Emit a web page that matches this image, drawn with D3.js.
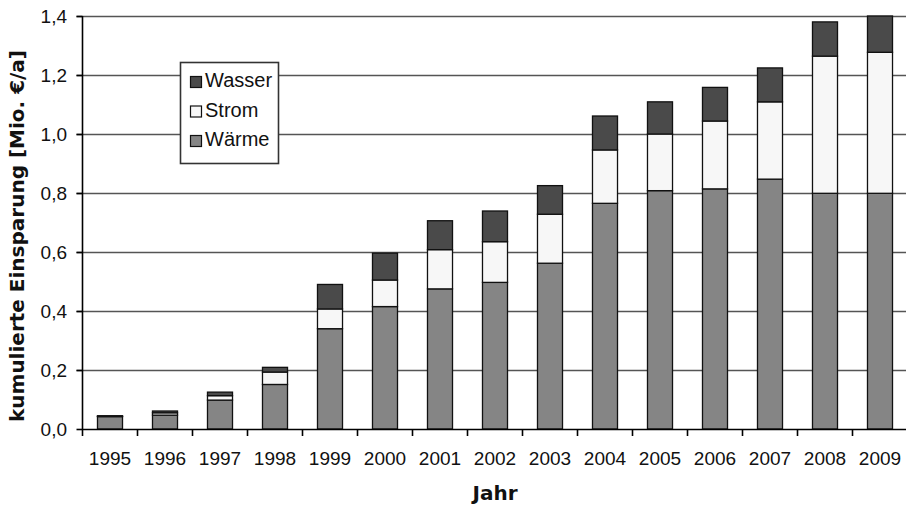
<!DOCTYPE html>
<html>
<head>
<meta charset="utf-8">
<script src="https://cdn.jsdelivr.net/npm/d3@7"></script>
<style>
  html, body { margin: 0; padding: 0; background: #fff; }
  svg { display: block; }
</style>
</head>
<body>
<svg id="chart" width="906" height="506"></svg>
<script>
const years = ["1995","1996","1997","1998","1999","2000","2001","2002","2003","2004","2005","2006","2007","2008","2009"];
const waerme = [0.042, 0.047, 0.098, 0.151, 0.340, 0.415, 0.475, 0.497, 0.562, 0.765, 0.808, 0.814, 0.847, 0.799, 0.799];
const strom  = [0.001, 0.008, 0.015, 0.042, 0.067, 0.090, 0.133, 0.138, 0.166, 0.181, 0.192, 0.230, 0.262, 0.465, 0.478];
const wasser = [0.002, 0.006, 0.012, 0.016, 0.083, 0.091, 0.098, 0.104, 0.097, 0.115, 0.109, 0.114, 0.115, 0.116, 0.123];
const yTicks = [0, 0.2, 0.4, 0.6, 0.8, 1.0, 1.2, 1.4];
const seriesNames = ["Wärme", "Strom", "Wasser"];
const legendOrder = ["Wasser", "Strom", "Wärme"];
const colors = { "Wärme": "#858585", "Strom": "#f7f7f7", "Wasser": "#4a4a4a" };

(function () {
const svg = d3.select("#chart");
const pLeft = 82.5, pRight = 907.5, pTop = 16, pBottom = 429;

const x = d3.scaleBand().domain(years).range([pLeft, pRight]).paddingInner(0.545).paddingOuter(0.2725);
const y = d3.scaleLinear().domain([0, 1.4]).range([pBottom, pTop]);
const fmt = v => d3.format(".1f")(v).replace(".", ",");

// gridlines
svg.append("g").selectAll("line").data(yTicks.filter(t => t > 0)).join("line")
  .attr("x1", pLeft - 6).attr("x2", 906)
  .attr("y1", d => Math.round(y(d)) + 0.5).attr("y2", d => Math.round(y(d)) + 0.5)
  .attr("stroke", "#555").attr("stroke-width", 1.6);

// stacked data
const table = years.map((yr, i) => ({ year: yr, "Wärme": waerme[i], "Strom": strom[i], "Wasser": wasser[i] }));
const stack = d3.stack().keys(seriesNames)(table);

svg.append("g").selectAll("g").data(stack).join("g")
  .attr("fill", d => colors[d.key])
  .selectAll("rect").data(d => d).join("rect")
  .attr("x", d => x(d.data.year))
  .attr("width", x.bandwidth())
  .attr("y", d => y(d[1]))
  .attr("height", d => Math.max(0, y(d[0]) - y(d[1])))
  .attr("stroke", "#111").attr("stroke-width", 1.3);

// y axis
const yAxis = svg.append("g");
yAxis.append("line").attr("x1", pLeft).attr("x2", pLeft).attr("y1", pTop).attr("y2", pBottom)
  .attr("stroke", "#000").attr("stroke-width", 1.6);
yAxis.selectAll("line.tick").data(yTicks).join("line").attr("class", "tick")
  .attr("x1", pLeft - 6).attr("x2", pLeft)
  .attr("y1", d => Math.round(y(d)) + 0.5).attr("y2", d => Math.round(y(d)) + 0.5)
  .attr("stroke", "#000").attr("stroke-width", 1.6);
yAxis.selectAll("text").data(yTicks).join("text")
  .attr("x", 67).attr("y", d => y(d) + 7)
  .attr("text-anchor", "end")
  .attr("font-family", "Liberation Sans, Arial, sans-serif").attr("font-size", 19)
  .attr("fill", "#111").text(fmt);

// x axis
const xAxis = svg.append("g");
xAxis.append("line").attr("x1", pLeft).attr("x2", 906).attr("y1", pBottom + 0.5).attr("y2", pBottom + 0.5)
  .attr("stroke", "#000").attr("stroke-width", 1.6);
const step = x.step(), gap = (step - x.bandwidth()) / 2;
const boundaries = years.map(yr => x(yr) - gap).concat([x(years[years.length - 1]) + x.bandwidth() + gap]);
xAxis.selectAll("line.tick").data(boundaries).join("line").attr("class", "tick")
  .attr("x1", d => d).attr("x2", d => d).attr("y1", pBottom).attr("y2", pBottom + 7)
  .attr("stroke", "#000").attr("stroke-width", 1.6);
xAxis.selectAll("text").data(years).join("text")
  .attr("x", d => x(d) + x.bandwidth() / 2).attr("y", 465)
  .attr("text-anchor", "middle")
  .attr("font-family", "Liberation Sans, Arial, sans-serif").attr("font-size", 19)
  .attr("fill", "#111").text(d => d);

// axis titles
svg.append("text").attr("x", (pLeft + pRight) / 2).attr("y", 500)
  .attr("text-anchor", "middle")
  .attr("font-family", "DejaVu Sans, sans-serif").attr("font-weight", "bold").attr("font-size", 20)
  .attr("fill", "#111").text("Jahr");
svg.append("text").attr("transform", "translate(24,236) rotate(-90)")
  .attr("text-anchor", "middle")
  .attr("font-family", "DejaVu Sans, sans-serif").attr("font-weight", "bold").attr("font-size", 20)
  .attr("fill", "#111").text("kumulierte Einsparung [Mio. €/a]");

// legend
const lg = svg.append("g");
lg.append("rect").attr("x", 180.5).attr("y", 62.5).attr("width", 98).attr("height", 101)
  .attr("fill", "#fff").attr("stroke", "#333").attr("stroke-width", 1.6);
const li = lg.selectAll("g").data(legendOrder).join("g")
  .attr("transform", (d, i) => `translate(190,${76 + i * 29.5})`);
li.append("rect").attr("x", 0.5).attr("y", 0.5).attr("width", 11).attr("height", 11)
  .attr("fill", d => colors[d]).attr("stroke", "#111").attr("stroke-width", 1.2);
li.append("text").attr("x", 15).attr("y", 11)
  .attr("font-family", "Liberation Sans, Arial, sans-serif").attr("font-size", 20)
  .attr("fill", "#111").text(d => d);
})();
</script>
</body>
</html>
